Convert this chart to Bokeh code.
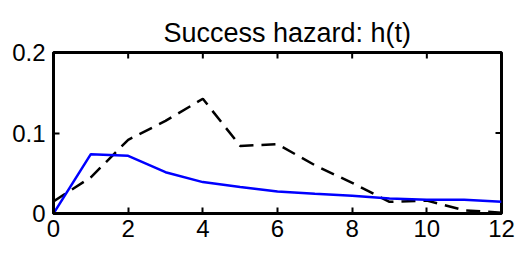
from bokeh.plotting import figure
from bokeh.models import FixedTicker, Range1d, Title
from bokeh.embed import file_html
from bokeh.resources import INLINE

t = [0, 1, 2, 3, 4, 5, 6, 7, 8, 9, 10, 11, 12]
h_model = [0.0, 0.0737, 0.0717, 0.0513, 0.039, 0.033, 0.0273, 0.0245, 0.022, 0.0187, 0.017, 0.017, 0.0145]
h_data = [0.015, 0.045, 0.0915, 0.115, 0.1425, 0.084, 0.086, 0.06, 0.038, 0.0145, 0.016, 0.004, 0.001]
x_ticks = [0, 2, 4, 6, 8, 10, 12]
y_ticks = [0, 0.1, 0.2]
y_labels = {0: "0", 0.1: "0.1", 0.2: "0.2"}

FONT = "Liberation Sans"
X0, X1, Y0, Y1 = 0, 12, 0, 0.2

W, H = 518, 253
BL, BR, BT, BB = 53, 17, 52, 40
FW, FH = W - BL - BR, H - BT - BB      # frame size in px
TICK = 6                                # tick length in px
dx = (X1 - X0) * TICK / FW
dy = (Y1 - Y0) * TICK / FH

p = figure(width=W, height=H, output_backend="svg", toolbar_location=None,
           x_range=Range1d(X0, X1), y_range=Range1d(Y0, Y1),
           min_border_left=BL, min_border_right=BR, min_border_top=BT, min_border_bottom=BB)
p.grid.visible = False
p.outline_line_color = "black"
p.outline_line_width = 3

p.title = Title(text="Success hazard: h(t)", align="left", offset=110, text_font=FONT,
                text_font_size="27px", text_font_style="normal", text_color="black",
                standoff=10)

for ax, ticks in ((p.xaxis[0], x_ticks), (p.yaxis[0], y_ticks)):
    ax.ticker = FixedTicker(ticks=ticks)
    ax.major_tick_in = TICK
    ax.major_tick_out = 0
    ax.minor_tick_in = 0
    ax.minor_tick_out = 0
    ax.axis_line_color = "black"
    ax.axis_line_width = 3
    ax.major_tick_line_color = "black"
    ax.major_tick_line_width = 2
    ax.major_label_text_font = FONT
    ax.major_label_text_font_size = "24px"
    ax.major_label_text_color = "black"
p.xaxis[0].major_label_standoff = 6
p.yaxis[0].major_label_standoff = 8
p.yaxis[0].major_label_overrides = y_labels

# inward ticks on the top and right sides of the box
n = len(x_ticks)
p.segment(x0=x_ticks, y0=[Y1] * n, x1=x_ticks, y1=[Y1 - dy] * n, line_color="black", line_width=2)
m = len(y_ticks)
p.segment(x0=[X1] * m, y0=y_ticks, x1=[X1 - dx] * m, y1=y_ticks, line_color="black", line_width=2)

p.line(t, h_data, line_color="black", line_width=2.5, line_dash="14 8")
p.line(t, h_model, line_color="#0000ff", line_width=2.5)

open("out.html", "w").write(file_html(p, INLINE))
